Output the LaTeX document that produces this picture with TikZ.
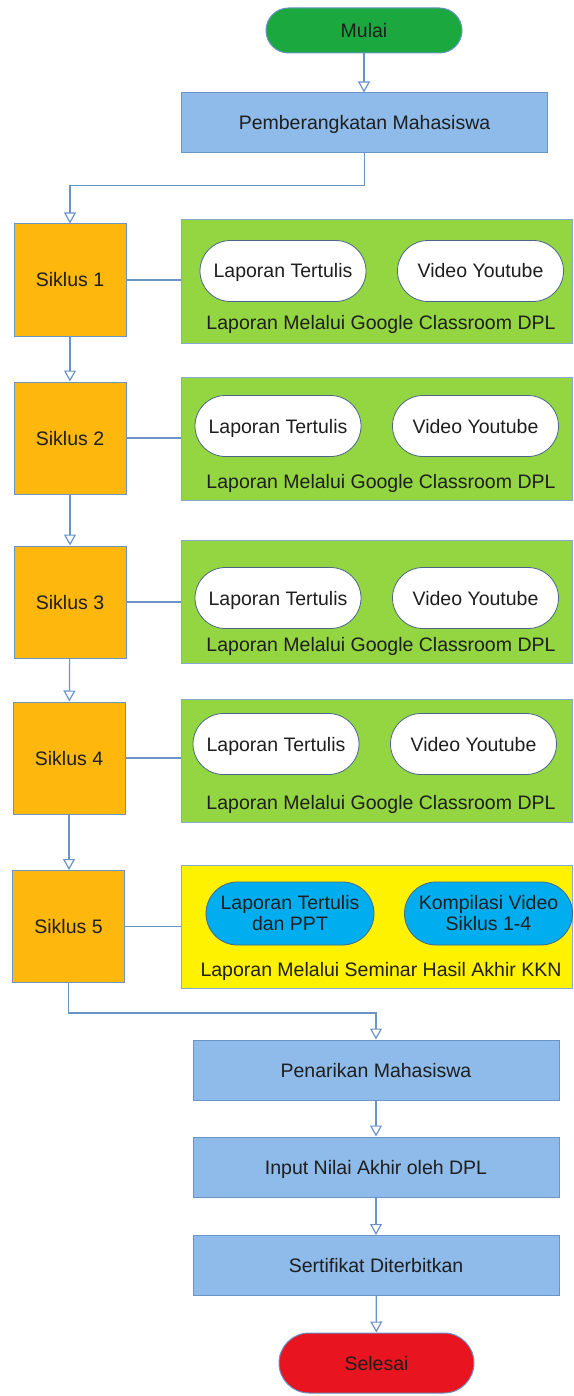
\documentclass[tikz,border=0pt]{standalone}
\usepackage{fontspec}
\setmainfont{Liberation Sans}
\usetikzlibrary{arrows.meta,shapes.misc}
\definecolor{linkblue}{HTML}{6A93C6}
\definecolor{startgreen}{HTML}{1BA83E}
\definecolor{stopred}{HTML}{E8141F}
\definecolor{procblue}{HTML}{8EBBEA}
\definecolor{cycleorange}{HTML}{FDB70D}
\definecolor{panelgreen}{HTML}{93D641}
\definecolor{pillblue}{HTML}{00AEEF}
\definecolor{inkgray}{HTML}{1E1E1E}
\begin{document}
\begin{tikzpicture}[x=1pt,y=-1pt,
    every node/.style={font=\fontsize{19.5}{21}\selectfont,text=inkgray,align=center,inner sep=0pt},
    oneline/.style={text height=14pt,text depth=0pt},
    flow/.style={draw=linkblue,line width=1.2pt,-{Triangle[open,length=11pt,width=12pt]}},
    link/.style={draw=linkblue,line width=1.2pt},
    terminal/.style={oneline,rounded rectangle,draw=linkblue,line width=1pt,minimum width=196,minimum height=45},
    process/.style={oneline,rectangle,draw=linkblue,line width=1pt,fill=procblue,minimum width=366,minimum height=60},
    cycle/.style={oneline,rectangle,draw=linkblue,line width=1pt,fill=cycleorange,minimum width=112,minimum height=112},
    panel/.style={rectangle,draw=linkblue!80,line width=1pt,minimum width=391,minimum height=123},
    pill/.style={rounded rectangle,draw=linkblue!70!black,line width=0.8pt,minimum width=166,minimum height=61}]
\useasboundingbox (0,0) rectangle (573,1396);

% start
\node[terminal,fill=startgreen] (mulai) at (364,30.5) {Mulai};
\node[process] (berangkat) at (364.5,123) {Pemberangkatan Mahasiswa};
\draw[flow] (mulai.south) -- (mulai.south |- berangkat.north);

% siklus 1-4
\foreach \i/\sx/\sy/\py/\ty/\lx/\ly in {1/70/280/281.5/271/283/323,
                                        2/70/438/438.5/426/278/481,
                                        3/70/602/601.5/598/278/644,
                                        4/69/758/760.5/744/276/802}{
  \node[cycle] (s\i) at (\sx,\sy) {Siklus \i};
  \node[panel,fill=panelgreen] (g\i) at (376.5,\py) {};
  \node[pill,oneline,fill=white] (lt\i) at (\lx,\ty) {Laporan Tertulis};
  \node[pill,oneline,fill=white] (vy\i) at (\lx+197.5,\ty) {Video Youtube};
  \node[oneline] (gl\i) at (381,\ly) {Laporan Melalui Google Classroom DPL};
  \draw[link] (s\i.east) -- (s\i.east -| g\i.west);
}

% siklus 5
\node[cycle] (s5) at (68.5,926.5) {Siklus 5};
\node[panel,fill=yellow] (g5) at (376.5,926.5) {};
\node[pill,fill=pillblue,minimum width=168,minimum height=63] (lt5) at (290,913.5) {Laporan Tertulis\\dan PPT};
\node[pill,fill=pillblue,minimum width=168,minimum height=63] (kv5) at (488.5,913.5) {Kompilasi Video\\Siklus 1-4};
\node[oneline] (gl5) at (381,969) {Laporan Melalui Seminar Hasil Akhir KKN};
\draw[link] (s5.east) -- (g5.west);

\draw[flow] (berangkat.south) -- ++(0,32) -| (s1.north);
\draw[flow] (s1) -- (s2);
\draw[flow] (s2) -- (s3);
\draw[flow] (s3) -- (s4);
\draw[flow] (s4.south) -- (s4.south |- s5.north);

% penutup
\node[process] (tarik) at (376,1070) {Penarikan Mahasiswa};
\node[process] (nilai) at (376,1167) {Input Nilai Akhir oleh DPL};
\node[process] (sertifikat) at (376,1265.5) {Sertifikat Diterbitkan};
\node[terminal,fill=stopred,minimum width=195,minimum height=60] (selesai) at (376.5,1363) {Selesai};

\draw[flow] (s5.south) -- ++(0,30) -| (tarik.north);
\draw[flow] (tarik) -- (nilai);
\draw[flow] (nilai) -- (sertifikat);
\draw[flow] (sertifikat) -- (selesai);
\end{tikzpicture}
\end{document}
